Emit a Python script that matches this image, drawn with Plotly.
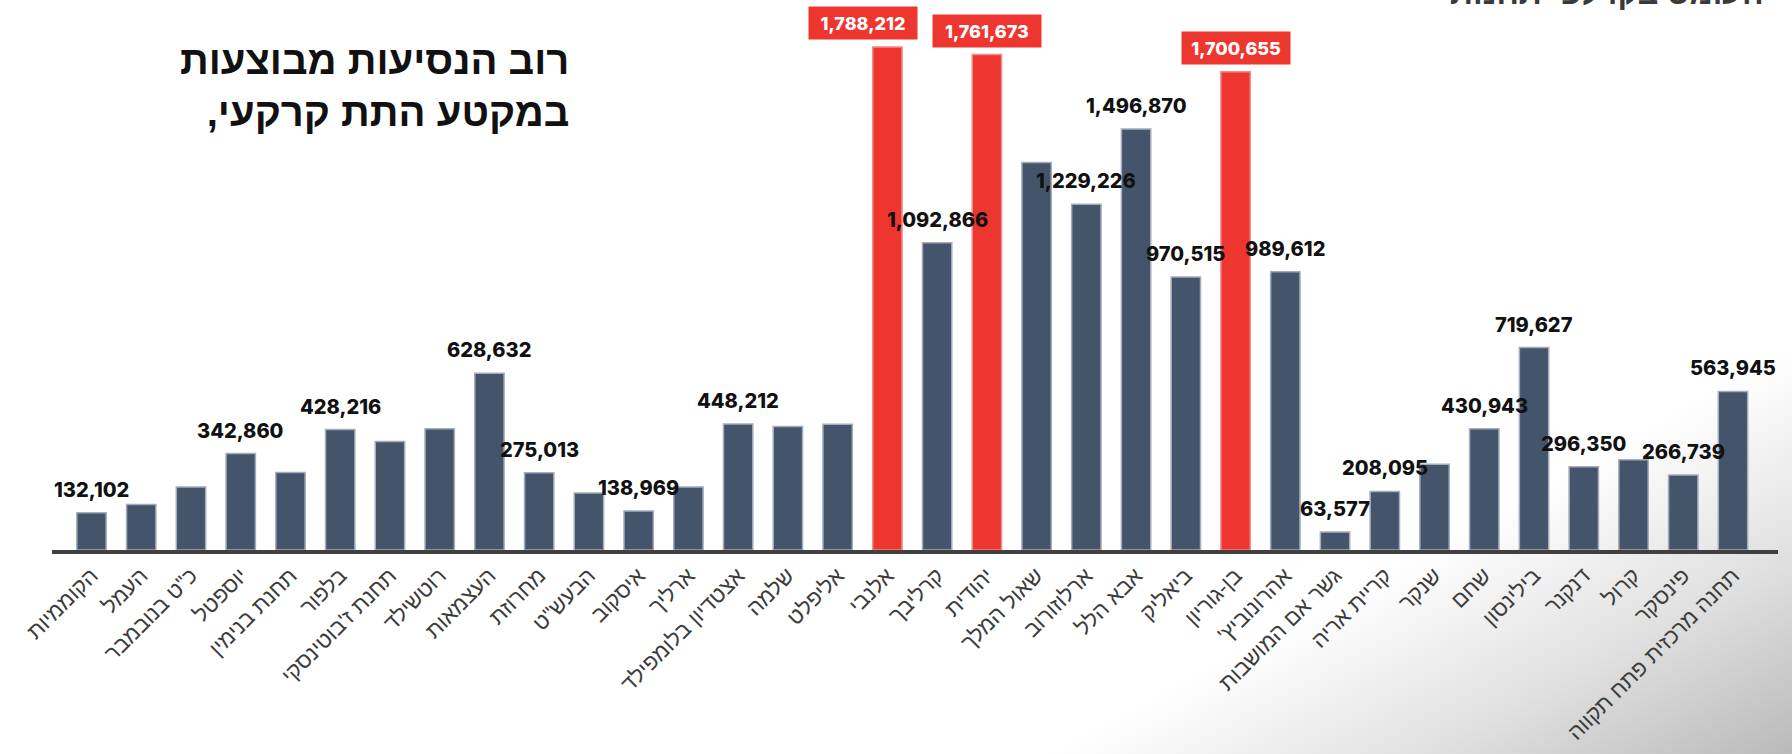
import base64
import plotly.graph_objects as go

# ---------------- data ----------------
RLM = "\u200f"
stations = [
    "הקוממיות", "העמל", 'כ"ט בנובמבר', "יוספטל", "תחנת בנימין", "בלפור",
    "תחנת ז'בוטינסקי", "רוטשילד", "העצמאות", "מחרוזת", 'הבעש"ט', "איסקוב",
    "ארליך", "אצטדיון בלומפילד", "שלמה", "אליפלט", "אלנבי", "קרליבך",
    "יהודית", "שאול המלך", "ארלוזורוב", "אבא הלל", "ביאליק", "בן-גוריון",
    "אהרונוביץ'" + RLM, "גשר אם המושבות", "קריית אריה", "שנקר", "שחם", "בילינסון",
    "דנקנר", "קרול", "פינסקר", "תחנה מרכזית פתח תקווה",
]
trips = [
    132102, 162000, 224000, 342860, 276000, 428216,
    386000, 431000, 628632, 275013, 203000, 138969,
    224000, 448212, 439000, 447000, 1788212, 1092866,
    1761673, 1378000, 1229226, 1496870, 970515, 1700655,
    989612, 63577, 208095, 305000, 430943, 719627,
    296350, 321000, 266739, 563945,
]
labeled = [
    True, False, False, True, False, True,
    False, False, True, True, False, True,
    False, True, False, False, True, True,
    True, False, True, True, True, True,
    True, True, True, False, True, True,
    True, False, True, True,
]
highlight = ["אלנבי", "יהודית", "בן-גוריון"]

title_lines = ["רוב הנסיעות מבוצעות", "במקטע התת קרקעי," + RLM]
corner_text = "העומס בקו לפי תחנות"

# ---------------- style ----------------
W, H = 1792, 754
ML, MR, MT, MB = 52, 14, 10, 204
PW, PH = W - ML - MR, H - MT - MB
NAVY = "#44546A"
RED = "#EE3630"
HEB = "Liberation Sans"
NUM = "Inter"

colors = [RED if s in highlight else NAVY for s in stations]
line_colors = ["#F08C88" if s in highlight else "#A3ACBA" for s in stations]

fig = go.Figure()
fig.add_trace(go.Bar(
    x=stations, y=trips,
    marker=dict(color=colors, line=dict(color=line_colors, width=1.5)),
    hoverinfo="x+y",
))

annotations = []
for s, v, show in zip(stations, trips, labeled):
    if not show:
        continue
    txt = f"{v:,}"
    if s in highlight:
        annotations.append(dict(
            x=s, y=v, xref="x", yref="y", text=txt, showarrow=False,
            yanchor="bottom", yshift=7, xshift=-24 if s == "אלנבי" else 0,
            bgcolor=RED, borderpad=4, width=100, height=24,
            font=dict(family=NUM, size=18, color="white", weight=800),
        ))
    else:
        annotations.append(dict(
            x=s, y=v, xref="x", yref="y", text=txt, showarrow=False,
            yanchor="bottom", yshift=9,
            font=dict(family=NUM, size=20, color="#111111", weight=800),
        ))

annotations.append(dict(
    xref="paper", yref="paper", x=(571 - ML) / PW, y=1 - (36 - MT) / PH,
    xanchor="right", yanchor="top", align="right", showarrow=False,
    text="<br>".join(title_lines),
    font=dict(family=HEB, size=40, color="#111111", weight=700),
))
annotations.append(dict(
    xref="paper", yref="paper", x=(1766 - ML) / PW, y=1,
    xanchor="right", yanchor="bottom", yshift=-3, showarrow=False,
    text=corner_text,
    font=dict(family=HEB, size=32, color="#3a3a3a", weight=700),
))

grad_svg = f'''<svg xmlns="http://www.w3.org/2000/svg" width="{W}" height="{H}" viewBox="0 0 {W} {H}" preserveAspectRatio="none">
<defs><linearGradient id="g" gradientUnits="userSpaceOnUse" x1="1110" y1="720" x2="1285" y2="1040">
<stop offset="0" stop-color="#ffffff"/><stop offset="0.5" stop-color="#e0e0e0"/><stop offset="1" stop-color="#b8b8b8"/>
</linearGradient></defs>
<rect x="0" y="0" width="{W}" height="{H}" fill="url(#g)"/></svg>'''
grad_src = "data:image/svg+xml;base64," + base64.b64encode(grad_svg.encode()).decode()

fig.update_layout(
    width=W, height=H,
    margin=dict(l=ML, r=MR, t=MT, b=MB, pad=0, autoexpand=False),
    paper_bgcolor="white", plot_bgcolor="rgba(0,0,0,0)",
    bargap=0.41, showlegend=False,
    annotations=annotations,
    images=[dict(
        source=grad_src, xref="paper", yref="paper",
        x=-ML / PW, y=1 + MT / PH, sizex=W / PW, sizey=H / PH,
        xanchor="left", yanchor="top", sizing="stretch", layer="below",
    )],
    xaxis=dict(
        type="category", tickangle=-45, showgrid=False, ticks="",
        showline=True, linecolor="#404040", linewidth=4, automargin=False,
        tickfont=dict(family=HEB, size=22, color="#3c3c3c"),
        fixedrange=True,
    ),
    yaxis=dict(
        range=[0, 1920000], visible=False, showgrid=False, fixedrange=True,
        automargin=False,
    ),
)

fig.write_html(
    "out.html",
    config={"displayModeBar": False},
    post_script="document.body.style.margin='0';document.body.style.overflow='hidden';",
)
